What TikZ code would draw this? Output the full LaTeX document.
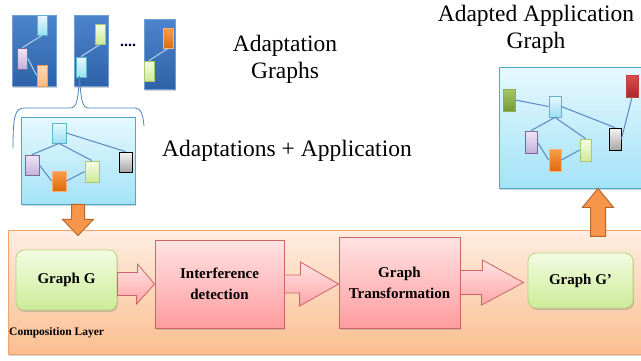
\documentclass[tikz,border=0pt]{standalone}
\usepackage{fontspec}
\setmainfont{Liberation Serif}
\usetikzlibrary{shadows,calc}
\definecolor{cyanT}{HTML}{E6F9FE}
\definecolor{cyanB}{HTML}{9CDFF4}
\definecolor{cyanD}{HTML}{5BB5CF}
\definecolor{purT}{HTML}{EEE8F5}
\definecolor{purB}{HTML}{C4B0DA}
\definecolor{purD}{HTML}{8064A2}
\definecolor{oraT}{HTML}{FA9E4C}
\definecolor{oraB}{HTML}{DD6A0C}
\definecolor{oraD}{HTML}{F8B27A}
\definecolor{lgrT}{HTML}{F5FCE6}
\definecolor{lgrB}{HTML}{CDEA98}
\definecolor{lgrD}{HTML}{A9C96A}
\definecolor{grayT}{HTML}{F6F6F6}
\definecolor{grayB}{HTML}{A6A6A6}
\definecolor{olvT}{HTML}{A6C663}
\definecolor{olvB}{HTML}{789835}
\definecolor{olvD}{HTML}{8EAE4C}
\definecolor{redT}{HTML}{DC4D4A}
\definecolor{redB}{HTML}{A82A2A}
\definecolor{redD}{HTML}{C04040}
\definecolor{dpT}{HTML}{4C84CC}
\definecolor{dpB}{HTML}{2F63A8}
\definecolor{apT}{HTML}{E6F8FE}
\definecolor{apB}{HTML}{A3E3F7}
\definecolor{apD}{HTML}{4BACC6}
\definecolor{edgeL}{HTML}{5B87C5}
\definecolor{edgeD}{HTML}{B8D2EE}
\definecolor{clT}{HTML}{FEEEE2}
\definecolor{clB}{HTML}{FBBE90}
\definecolor{clD}{HTML}{F7A266}
\definecolor{pkT}{HTML}{FFE3E3}
\definecolor{pkB}{HTML}{FF9C9E}
\definecolor{pkD}{HTML}{CF6467}
\definecolor{gbT}{HTML}{F3FBE2}
\definecolor{gbB}{HTML}{CDEC98}
\definecolor{gbD}{HTML}{B5D47A}
\definecolor{oarF}{HTML}{F7964A}
\definecolor{oarD}{HTML}{B8672C}
\definecolor{braceC}{HTML}{4F81BD}
\begin{document}
\begin{tikzpicture}[x=1pt,y=1pt,
  sh/.style={drop shadow={shadow xshift=1pt,shadow yshift=-2pt,opacity=0.35}},
  gnode/.style={draw,line width=0.8pt,inner sep=0pt,minimum width=10pt,minimum height=20pt},
  cyanN/.style={gnode,top color=cyanT,bottom color=cyanB,draw=cyanD},
  purN/.style={gnode,top color=purT,bottom color=purB,draw=purD},
  oraN/.style={gnode,top color=oraT,bottom color=oraB,draw=oraD},
  lgrN/.style={gnode,top color=lgrT,bottom color=lgrB,draw=lgrD},
  grayN/.style={gnode,top color=grayT,bottom color=grayB,draw=black},
  olvN/.style={gnode,top color=olvT,bottom color=olvB,draw=olvD},
  redN/.style={gnode,top color=redT,bottom color=redB,draw=redD},
  dpanel/.style={sh,draw=dpT!80!white,line width=0.5pt,top color=dpT,bottom color=dpB,inner sep=0pt},
  apanel/.style={sh,draw=apD,line width=0.8pt,top color=apT,bottom color=apB,inner sep=0pt},
  eL/.style={draw=edgeL,line width=1pt},
  eD/.style={draw=edgeD,line width=1pt},
  bigtxt/.style={font=\fontsize{23.5}{27}\selectfont,align=center},
  boxtxt/.style={font=\fontsize{15}{21}\selectfont\bfseries,align=center},
  pbox/.style={sh,draw=pkD,line width=0.8pt,top color=pkT,bottom color=pkB,inner sep=0pt},
  gbox/.style={sh,draw=gbD,line width=0.8pt,top color=gbT,bottom color=gbB,rounded corners=8pt,inner sep=0pt},
  parrow/.style={draw=pkD,line width=0.8pt,top color=pkT,bottom color=pkB!90!white},
  oarrow/.style={draw=oarD,line width=1pt,fill=oarF},
]
\useasboundingbox (0,0) rectangle (641,-360);
% ---- top small adaptation graphs ----
\node[dpanel,minimum width=44pt,minimum height=71pt] (p1) at (34,-50.5) {};
\node[dpanel,minimum width=34pt,minimum height=71pt] (p2) at (91,-50.5) {};
\node[dpanel,minimum width=31pt,minimum height=70pt] (p3) at (159.5,-54) {};
\node[cyanN] (p1a) at (42,-25) {};
\node[purN,minimum height=21pt] (p1b) at (22.5,-58.5) {};
\node[oraN,minimum height=21pt,top color=oraT!40!white,bottom color=oraT!70!white,draw=oraT] (p1c) at (42,-75.5) {};
\draw[eD] (p1a.south) -- (p1b.north);
\draw[eD] (p1b.east) -- (p1c.west);
\node[lgrN] (p2a) at (100,-34) {};
\node[cyanN] (p2b) at (81,-67) {};
\draw[eD] (p2a.south) -- (p2b.north);
\node[oraN] (p3a) at (168,-38) {};
\node[lgrN] (p3b) at (149,-71) {};
\draw[eD] (p3a.south) -- (p3b.north);
\node[font=\fontsize{16}{16}\selectfont\bfseries,text=black!80!blue] (dots) at (128,-45) {....};
% ---- brace ----
\draw[braceC,line width=0.8pt] (13,-148) .. controls (13,-115) and (15,-108) .. (25,-108)
  -- (70,-108) .. controls (77,-108) and (78,-100) .. (79.5,-76)
  .. controls (81,-100) and (82,-108) .. (89,-108) -- (135,-108)
  .. controls (141,-108) and (143,-115) .. (144,-126);
% ---- application panel ----
\node[apanel,minimum width=114pt,minimum height=87pt] (app) at (78,-160.5) {};
\node[cyanN,minimum width=14pt] (a1) at (59,-133) {};
\node[purN,minimum width=14pt] (a2) at (32,-165) {};
\node[oraN,minimum width=14pt] (a3) at (59,-181) {};
\node[lgrN,minimum width=14pt,minimum height=21pt] (a4) at (92,-171.5) {};
\node[grayN,minimum width=13pt] (a5) at (125.5,-162) {};
\draw[eL] (a1.south) -- (a2.north);
\draw[eL] (a1.south) -- (a4.north);
\draw[eL] (a1.east) -- (a5.north);
\draw[eL] (a2.east) -- (a3.west);
\draw[eL] (a3.east) -- (a4.west);
% ---- texts ----
\node[bigtxt] (t1) at (285,-59) {Adaptation\\Graphs};
\node[bigtxt] (t2) at (287,-151) {Adaptations + Application};
\node[bigtxt] (t3) at (536,-29.5) {Adapted Application\\Graph};
% ---- adapted application panel ----
\node[apanel,minimum width=143pt,minimum height=121pt] (rp) at (570.5,-127.5) {};
\node[olvN,minimum width=12pt,minimum height=22pt] (r1) at (509,-100) {};
\node[cyanN,minimum width=12pt,minimum height=21pt] (r2) at (555,-106.5) {};
\node[redN,minimum width=12pt,minimum height=22pt] (r3) at (632,-86) {};
\node[purN,minimum width=12pt,minimum height=22pt] (r4) at (531,-142) {};
\node[oraN,minimum width=12pt,minimum height=22pt] (r5) at (555,-160) {};
\node[lgrN,minimum width=11pt,minimum height=22pt] (r6) at (585.5,-150) {};
\node[grayN,minimum width=12pt,minimum height=22pt] (r7) at (615,-139) {};
\draw[eL] (r1.east) -- (r2.west);
\draw[eL] (r2.east) -- (r7.north);
\draw[eL] (r7.east) -- (r3.south);
\draw[eL] (r2.south) -- (r4.north);
\draw[eL] (r2.south) -- (r6.north);
\draw[eL] (r4.east) -- (r5.west);
\draw[eL] (r5.east) -- (r6.west);
% ---- composition layer ----
\node[sh,draw=clD,line width=0.8pt,top color=clT,bottom color=clB,inner sep=0pt,
      minimum width=633pt,minimum height=124pt] (comp) at (324.5,-292) {};
\node[gbox,minimum width=101pt,minimum height=60pt,boxtxt] (gG) at (66.5,-280) {Graph G};
\node[pbox,minimum width=129pt,minimum height=88pt,boxtxt] (int) at (219.5,-284) {Interference\\detection};
\node[pbox,minimum width=121pt,minimum height=91pt,boxtxt] (gt) at (399.5,-282.5) {Graph\\Transformation};
\node[gbox,minimum width=105pt,minimum height=55pt,boxtxt] (gG2) at (580.5,-280.5) {Graph G’};
\node[anchor=west,font=\fontsize{11.5}{13}\selectfont\bfseries,inner sep=0pt] (cl) at (9,-333) {Composition Layer};
% ---- block arrows ----
\path[parrow] ($(gG.east|-int.west)+(0,11.5)$) -- ++(20,0) -- ++(0,8.5) -- (int.west)
  -- ++(-18,-20) -- ++(0,8.5) -- ($(gG.east|-int.west)+(0,-11.5)$) -- cycle;
\path[parrow] ($(int.east)+(0,9)$) -- ++(16,0) -- ++(0,13) -- (gt.west|-int.east)
  -- ++(-39,-22) -- ++(0,13) -- ($(int.east)+(0,-9)$) -- cycle;
\path[parrow] ($(gt.east)+(0,12)$) -- ++(22,0) -- ++(0,10.5) -- ($(gG2.west|-gt.east)+(-4,0)$)
  -- ++(-42,-22.5) -- ++(0,10.5) -- ($(gt.east)+(0,-12)$) -- cycle;
% ---- orange arrows ----
\path[oarrow] ($(app.south)+(-6.5,0)$) -- ++(0,-15) -- ++(-9,0) -- ($(app.south)+(0,-31)$)
  -- ++(15.5,16) -- ++(-9,0) -- ($(app.south)+(6.5,0)$) -- cycle;
\coordinate (upTip) at ($(rp.south)+(27.5,0)$);
\path[oarrow] (upTip) -- ++(15.5,-19) -- ++(-8,0) -- ++(0,-29) -- ++(-15,0) -- ++(0,29) -- ++(-8,0) -- cycle;
\end{tikzpicture}
\end{document}
